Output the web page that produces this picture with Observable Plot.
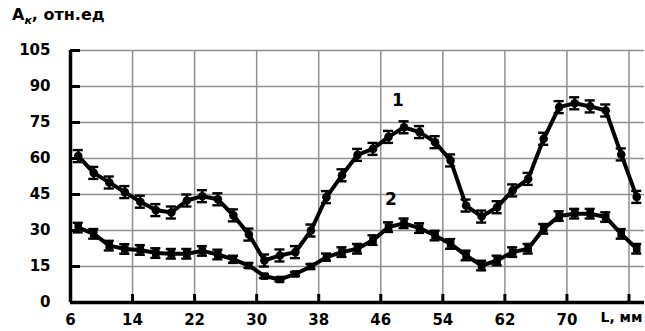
<!DOCTYPE html>
<html><head><meta charset="utf-8">
<script src="https://cdn.jsdelivr.net/npm/d3@7"></script>
<script src="https://cdn.jsdelivr.net/npm/@observablehq/plot@0.6"></script>
<style>
body{margin:0;background:#fff;}
#wrap{position:relative;width:645px;height:331px;font-family:"DejaVu Sans",sans-serif;}
#title{position:absolute;left:12px;top:7px;font-weight:bold;font-size:16px;color:#000;line-height:1;z-index:2;}
#title sub{font-size:11px;font-style:italic;vertical-align:-4px;}
#wrap svg{position:absolute;left:0;top:0;z-index:1;}
</style></head><body>
<div id="wrap"><div id="title">A<sub>к</sub>, отн.ед</div></div>
<script>
// positions along the sample, mm
const L = [7,9,11,13,15,17,19,21,23,25,27,29,31,33,35,37,39,41,43,45,47,49,51,53,55,57,59,61,63,65,67,69,71,73,75,77,79];
// curve 1
const curve1 = [61,54,50,46,42,38.5,37.5,42.5,44.3,43,36.3,28.3,17.5,19.6,21,30,43.9,53,61.5,64,69,73,71,66.8,59.2,40.4,35.8,39.7,46.7,51.5,68.2,81.4,83,81.7,80,61.7,44];
const err1   = [2.5,2.5,2.5,2.5,2.5,2.5,2.5,2.5,2.5,2.5,2.5,2.5,2.5,2.5,2.5,2.5,2.5,2.5,2.5,2.5,2.5,2.5,2.5,2.5,2.5,2.5,2.5,2.5,2.5,2.5,2.5,2.5,2.5,2.5,2.5,2.5,2.5];
// curve 2
const curve2 = [31.2,28.6,23.7,22.3,21.9,20.6,20.3,20.3,21.5,20,18,15.4,11,9.6,11.9,15,18.9,21,22.4,26,31.4,33,31,27.9,24.4,19.6,15.4,17.5,21,22.4,30.7,36,37,37,35.6,28.6,22.4];
const err2   = [2,2,2,2,2,2,2,2,2,2,1.5,1,0.8,0.8,0.8,1,1.5,2,2,2,2,2,2,2,2,2,2,2,2,2,2,2,2,2,2,2,2];
const seriesNames = ["1","2"];
const labelAtL = 49; // curve labels sit above the points at L = 49 mm
const yTicks = [0,15,30,45,60,75,90,105];
const xTicks = [6,14,22,30,38,46,54,62,70,78];
const xTickLabels = ["6","14","22","30","38","46","54","62","70","L, мм"];

const rows1 = L.map((x,i)=>({L:x, v:curve1[i], e:err1[i], s:seriesNames[0]}));
const rows2 = L.map((x,i)=>({L:x, v:curve2[i], e:err2[i], s:seriesNames[1]}));
const rows = rows1.concat(rows2);
const at = rs => [rs.find(d=>d.L===labelAtL)];

const W=645, H=331, mL=70, mR=1, mT=50, mB=29;
const fw = W-mL-mR, fh = H-mT-mB;
const grid = "#8f8f8f";
const font = {fontSize:15, fontWeight:"bold", fill:"#000"};
const nLab = xTicks.length-1;

const chart = Plot.plot({
  width:W, height:H, marginLeft:mL, marginRight:mR, marginTop:mT, marginBottom:mB,
  style:{fontFamily:"DejaVu Sans, sans-serif", background:"transparent", overflow:"visible"},
  x:{domain:[6,80], label:null},
  y:{domain:[0,105], label:null},
  marks:[
    Plot.ruleY(yTicks.filter(v=>v>0), {stroke:grid, strokeWidth:1.5}),
    Plot.ruleX(xTicks.slice(1), {stroke:grid, strokeWidth:1.5}),
    Plot.ruleY(yTicks, {stroke:"#000", strokeWidth:3, insetRight: fw-10}),
    Plot.ruleX(xTicks.slice(1), {stroke:"#000", strokeWidth:3, insetTop: fh-8}),
    Plot.ruleX([6], {stroke:"#000", strokeWidth:3.5}),
    Plot.ruleY([0], {stroke:"#000", strokeWidth:3.5}),
    Plot.axisY(yTicks, {tickSize:0, tickPadding:20, label:null, ...font}),
    Plot.axisX(xTicks.slice(0,nLab), {tickSize:0, tickPadding:12, label:null, tickFormat:d=>xTickLabels[xTicks.indexOf(d)], ...font}),
    Plot.text([xTickLabels[nLab]], {frameAnchor:"bottom-right", dy:19, dx:-2, textAnchor:"end", fontSize:14, fontWeight:"bold", fill:"#000"}),
    Plot.ruleX(rows, {x:"L", y1:d=>d.v-d.e, y2:d=>d.v+d.e, stroke:"#000", strokeWidth:2.4}),
    Plot.ruleY(rows, {y:d=>d.v+d.e, x1:d=>d.L-0.65, x2:d=>d.L+0.65, stroke:"#000", strokeWidth:2.4}),
    Plot.ruleY(rows, {y:d=>d.v-d.e, x1:d=>d.L-0.65, x2:d=>d.L+0.65, stroke:"#000", strokeWidth:2.4}),
    Plot.line(rows, {x:"L", y:"v", z:"s", stroke:"#000", strokeWidth:4}),
    Plot.dot(rows1, {x:"L", y:"v", r:4.3, fill:"#000", stroke:"none"}),
    Plot.dot(rows2, {x:"L", y:"v", r:4.3, symbol:"square", fill:"#000", stroke:"none"}),
    Plot.text(at(rows1), {x:"L", y:"v", text:()=>seriesNames[0], dx:-6, dy:-27, fontSize:17, fontWeight:"bold", fill:"#000"}),
    Plot.text(at(rows2), {x:"L", y:"v", text:()=>seriesNames[1], dx:-13, dy:-24, fontSize:17, fontWeight:"bold", fill:"#000"})
  ]
});
document.getElementById("wrap").appendChild(chart);
</script>
</body></html>
